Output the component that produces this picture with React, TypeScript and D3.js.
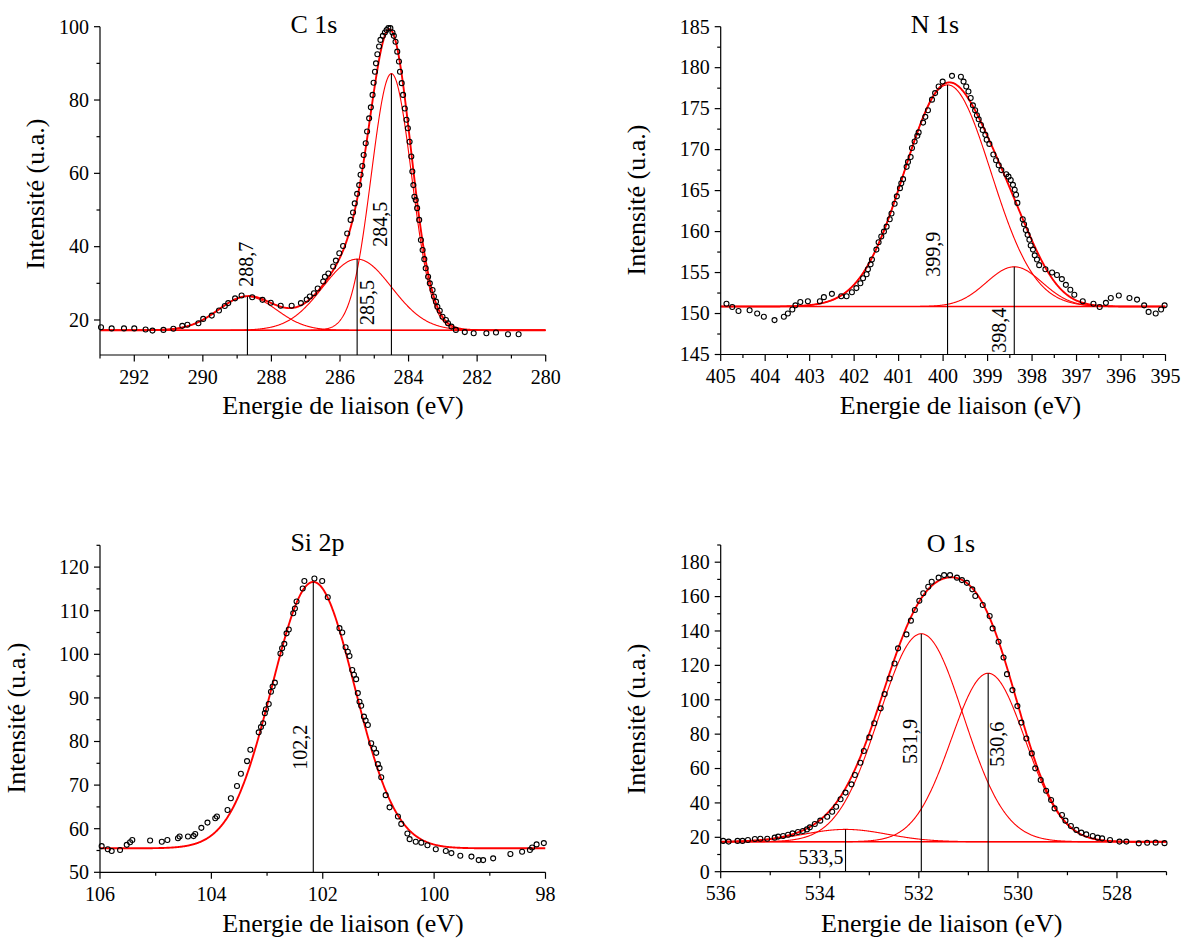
import React, { useEffect } from "react";
import * as d3 from "d3";

type Pt = [number, number];

// ================= C 1s =================
const c1sPoints: Pt[] = [
  [292.97, 18.0], [292.66, 17.7], [292.3, 17.7], [292.0, 17.7], [291.67, 17.4], [291.47, 17.1],
  [291.15, 17.3], [290.86, 17.6], [290.6, 18.4], [290.45, 18.7], [290.13, 19.1], [289.99, 20.3],
  [289.74, 21.2], [289.53, 22.6], [289.36, 23.8], [289.26, 24.6], [289.06, 25.9], [288.87, 26.7],
  [288.56, 26.2], [288.26, 25.5], [288.02, 24.7], [287.73, 23.9], [287.41, 23.9], [287.14, 24.6],
  [286.97, 25.6], [286.88, 26.4], [286.76, 27.3], [286.65, 28.6], [286.49, 30.5], [286.44, 31.8],
  [286.34, 32.7], [286.2, 34.6], [286.12, 36.2], [286.02, 38.2], [285.91, 40.2], [285.79, 43.6],
  [285.69, 47.3], [285.62, 49.3], [285.57, 51.8], [285.5, 54.4], [285.44, 56.8], [285.4, 59.6],
  [285.35, 62.0], [285.31, 65.0], [285.25, 68.2], [285.21, 71.4], [285.15, 75.0], [285.1, 78.0],
  [285.05, 81.4], [285.02, 84.7], [284.98, 87.7], [284.95, 90.0], [284.91, 92.5], [284.86, 94.6],
  [284.82, 96.4], [284.75, 97.5], [284.69, 98.4], [284.64, 99.1], [284.59, 99.6], [284.53, 99.6],
  [284.47, 98.4], [284.43, 97.5], [284.38, 95.9], [284.33, 93.2], [284.28, 90.5], [284.25, 87.7],
  [284.2, 84.6], [284.16, 81.4], [284.11, 77.7], [284.06, 74.6], [284.02, 72.3], [283.97, 68.6],
  [283.92, 64.6], [283.89, 60.5], [283.86, 56.8], [283.83, 53.6], [283.79, 52.7], [283.75, 50.5],
  [283.69, 47.3], [283.64, 41.8], [283.59, 39.1], [283.54, 36.6], [283.5, 34.1], [283.43, 31.8],
  [283.38, 30.0], [283.3, 28.2], [283.26, 26.4], [283.2, 25.0], [283.16, 23.6], [283.09, 22.5],
  [283.01, 20.9], [282.91, 20.0], [282.85, 19.1], [282.75, 18.2], [282.62, 17.3], [282.36, 16.7],
  [282.1, 16.4], [281.73, 16.4], [281.45, 16.6], [281.1, 16.1], [280.79, 16.1],
];
const c1sBaseline = 17.2;
const c1sCenters = [288.7, 285.5, 284.5];
const c1sHeights = [9.2, 19.4, 70];
const c1sFwhm = [2.0, 2.36, 1.38];
const c1sLabels = ["288,7", "285,5", "284,5"];
const c1sXMajor = [292, 290, 288, 286, 284, 282, 280];
const c1sXMinor = [293, 291, 289, 287, 285, 283, 281];
const c1sYMajor = [20, 40, 60, 80, 100];
const c1sYMinor = [30, 50, 70, 90];

// ================= N 1s =================
const n1sPoints: Pt[] = [
  [404.87, 151.2], [404.74, 150.8], [404.6, 150.3], [404.35, 150.4], [404.18, 150.0], [404.03, 149.6],
  [403.79, 149.2], [403.58, 149.6], [403.49, 150.0], [403.39, 150.5], [403.32, 151.0], [403.21, 151.4],
  [403.04, 151.5], [402.77, 151.5], [402.68, 152.0], [402.5, 152.4], [402.29, 152.1], [402.17, 152.1],
  [402.05, 152.6], [401.95, 153.1], [401.86, 153.7], [401.8, 154.3], [401.72, 154.8], [401.69, 155.4],
  [401.63, 156.0], [401.6, 156.6], [401.5, 157.8], [401.45, 158.7], [401.39, 159.4], [401.33, 160.0],
  [401.27, 160.6], [401.2, 161.5], [401.16, 162.2], [401.09, 163.4], [401.04, 164.3], [400.97, 165.3],
  [400.94, 165.9], [400.9, 166.4], [400.82, 167.9], [400.79, 168.5], [400.73, 169.1], [400.7, 170.2],
  [400.64, 171.0], [400.58, 171.7], [400.55, 172.1], [400.45, 173.3], [400.4, 174.0], [400.34, 174.8],
  [400.25, 176.1], [400.18, 176.9], [400.1, 177.7], [400.01, 178.3], [399.8, 179.0], [399.6, 178.9],
  [399.54, 178.3], [399.48, 177.7], [399.43, 177.1], [399.38, 176.3], [399.33, 175.4], [399.28, 174.8],
  [399.24, 174.2], [399.2, 173.7], [399.15, 173.0], [399.11, 172.4], [399.05, 171.8], [399.02, 171.2],
  [398.96, 170.7], [398.87, 169.4], [398.81, 168.7], [398.75, 168.1], [398.69, 167.5], [398.58, 167.0],
  [398.53, 166.7], [398.48, 166.3], [398.43, 165.7], [398.39, 165.1], [398.36, 164.5], [398.33, 163.5],
  [398.21, 161.5], [398.18, 160.9], [398.14, 160.2], [398.1, 159.6], [398.06, 159.0], [398.03, 158.3],
  [397.98, 157.8], [397.94, 157.1], [397.89, 156.6], [397.84, 155.9], [397.7, 155.4], [397.55, 155.0],
  [397.44, 154.7], [397.33, 154.2], [397.24, 153.5], [397.14, 152.9], [397.05, 152.3], [396.86, 151.5],
  [396.62, 151.2], [396.48, 150.8], [396.34, 151.3], [396.23, 151.9], [396.05, 152.2], [395.81, 151.9],
  [395.64, 151.7], [395.48, 151.0], [395.38, 150.2], [395.22, 150.0], [395.1, 150.5], [395.02, 151.0],
];
const n1sBaseline = 150.85;
const n1sCenters = [399.9, 398.4];
const n1sHeights = [27.05, 4.85];
const n1sFwhm = [2.3, 1.48];
const n1sLabels = ["399,9", "398,4"];
const n1sXMajor = [405, 404, 403, 402, 401, 400, 399, 398, 397, 396, 395];
const n1sXMinor = [404.5, 403.5, 402.5, 401.5, 400.5, 399.5, 398.5, 397.5, 396.5, 395.5];
const n1sYMajor = [145, 150, 155, 160, 165, 170, 175, 180, 185];
const n1sYMinor = [147.5, 152.5, 157.5, 162.5, 167.5, 172.5, 177.5, 182.5];

// ================= Si 2p =================
const si2pPoints: Pt[] = [
  [105.97, 56.0], [105.86, 55.3], [105.79, 54.9], [105.64, 55.1], [105.52, 56.3], [105.46, 56.9],
  [105.42, 57.4], [105.1, 57.3], [104.89, 57.0], [104.79, 57.4], [104.6, 57.8], [104.57, 58.2],
  [104.42, 58.2], [104.32, 58.3], [104.29, 58.8], [104.18, 60.2], [104.07, 61.4], [103.93, 62.4],
  [103.9, 62.8], [103.71, 64.3], [103.65, 67.0], [103.54, 69.8], [103.47, 72.6], [103.36, 75.5],
  [103.3, 78.1], [103.15, 82.1], [103.11, 83.3], [103.07, 84.2], [103.04, 86.5], [103.02, 87.4],
  [102.97, 88.6], [102.93, 91.4], [102.9, 92.6], [102.86, 93.5], [102.76, 100.2], [102.73, 101.4],
  [102.69, 102.4], [102.65, 104.8], [102.61, 105.7], [102.53, 109.4], [102.5, 110.5], [102.47, 112.1],
  [102.36, 115.1], [102.33, 116.8], [102.15, 117.4], [102.01, 116.8], [101.91, 113.1], [101.7, 106.0],
  [101.65, 105.0], [101.59, 101.6], [101.55, 100.6], [101.52, 99.6], [101.47, 96.4], [101.44, 95.3],
  [101.4, 94.3], [101.37, 91.1], [101.34, 89.1], [101.31, 88.2], [101.26, 85.7], [101.23, 84.8],
  [101.19, 83.8], [101.13, 79.6], [101.08, 78.4], [101.04, 77.4], [101.01, 74.8], [100.98, 73.9],
  [100.95, 71.8], [100.87, 67.7], [100.8, 64.9], [100.65, 62.8], [100.59, 61.1], [100.48, 58.9],
  [100.44, 57.6], [100.33, 57.0], [100.23, 56.8], [100.12, 56.2], [99.97, 55.3], [99.79, 54.9],
  [99.69, 54.4], [99.53, 53.8], [99.33, 53.6], [99.2, 52.8], [99.12, 52.8], [98.94, 53.2],
  [98.63, 54.2], [98.42, 54.7], [98.28, 55.1], [98.24, 55.7], [98.16, 56.4], [98.03, 56.7],
];
const si2pBaseline = 55.5;
const si2pCenters = [102.17];
const si2pHeights = [61.1];
const si2pFwhm = [1.75];
const si2pLabels = ["102,2"];
const si2pXMajor = [106, 104, 102, 100, 98];
const si2pXMinor = [105, 103, 101, 99];
const si2pYMajor = [50, 60, 70, 80, 90, 100, 110, 120];
const si2pYMinor = [55, 65, 75, 85, 95, 105, 115, 125];

// ================= O 1s =================
const o1sPoints: Pt[] = [
  [535.95, 17.9], [535.84, 17.5], [535.66, 17.9], [535.56, 17.9], [535.45, 18.4], [535.31, 19.0],
  [535.2, 19.2], [535.06, 19.2], [534.91, 19.8], [534.84, 20.4], [534.74, 20.8], [534.64, 21.5],
  [534.55, 22.3], [534.44, 23.1], [534.34, 23.7], [534.26, 24.6], [534.2, 25.8], [534.1, 27.7],
  [533.99, 29.7], [533.85, 32.0], [533.75, 34.9], [533.67, 37.8], [533.58, 42.1], [533.48, 46.0],
  [533.36, 50.8], [533.29, 56.2], [533.18, 63.4], [533.11, 70.2], [533.0, 78.1], [532.9, 86.3],
  [532.77, 95.0], [532.69, 103.3], [532.59, 112.4], [532.49, 121.1], [532.42, 129.9], [532.25, 138.0],
  [532.16, 146.0], [532.08, 152.2], [531.99, 157.6], [531.91, 161.9], [531.81, 165.7], [531.74, 168.6],
  [531.6, 171.0], [531.49, 172.5], [531.37, 172.5], [531.23, 171.0], [531.13, 169.6], [531.03, 168.0],
  [530.92, 164.2], [530.86, 160.3], [530.71, 155.1], [530.57, 148.7], [530.51, 141.5], [530.39, 133.7],
  [530.29, 124.6], [530.22, 114.9], [530.11, 105.6], [530.01, 96.3], [529.93, 86.7], [529.83, 77.5],
  [529.72, 68.8], [529.65, 60.1], [529.54, 53.3], [529.43, 47.1], [529.33, 41.7], [529.26, 36.8],
  [529.11, 33.0], [529.04, 29.7], [528.93, 26.6], [528.82, 24.3], [528.72, 22.7], [528.62, 21.7],
  [528.49, 20.8], [528.39, 19.8], [528.3, 19.4], [528.14, 18.4], [527.95, 17.5], [527.81, 17.5],
  [527.56, 16.5], [527.39, 16.8], [527.22, 16.9], [527.04, 16.6],
];
const o1sBaseline = 17.4;
const o1sCenters = [533.48, 531.95, 530.6];
const o1sHeights = [7.2, 121, 98];
const o1sFwhm = [2.0, 2.0, 1.76];
const o1sLabels = ["533,5", "531,9", "530,6"];
const o1sXMajor = [536, 534, 532, 530, 528];
const o1sXMinor = [535, 533, 531, 529, 527];
const o1sYMajor = [0, 20, 40, 60, 80, 100, 120, 140, 160, 180];
const o1sYMinor = [10, 30, 50, 70, 90, 110, 130, 150, 170, 190];

// ================= layout (positions / styles only) =================
const FONT = "Liberation Serif";
const RED = "#ff0000";

type LabelPos = { dx: number; at: number; horizontal?: boolean };

type PanelProps = {
  id: string;
  title: string;
  points: Pt[];
  baseline: number;
  centers: number[];
  heights: number[];
  fwhm: number[];
  labels: string[];
  labelPos: LabelPos[];
  drawBaseline: boolean;
  xDomain: [number, number];
  yDomain: [number, number];
  xRange: [number, number];
  yRange: [number, number];
  xMajor: number[];
  xMinor: number[];
  yMajor: number[];
  yMinor: number[];
  titlePos: [number, number];
  xlabelPos: [number, number];
  ylabelPos: [number, number];
};

function gauss(e: number, c: number, h: number, w: number) {
  return h * Math.exp((-4 * Math.LN2 * (e - c) * (e - c)) / (w * w));
}

const txt = (size: number): React.CSSProperties => ({ fontFamily: FONT, fontSize: size });

function Panel(p: PanelProps) {
  const x = d3.scaleLinear().domain(p.xDomain).range(p.xRange);
  const y = d3.scaleLinear().domain(p.yDomain).range(p.yRange);
  const lo = Math.min(p.xDomain[0], p.xDomain[1]);
  const hi = Math.max(p.xDomain[0], p.xDomain[1]);
  const n = 900;
  const grid = d3.range(n + 1).map((i) => lo + ((hi - lo) * i) / n);
  const line = d3
    .line<Pt>()
    .x((d) => x(d[0]))
    .y((d) => y(d[1]));

  const comps: Pt[][] = p.centers.map((c, i) =>
    grid.map((e) => [e, p.baseline + gauss(e, c, p.heights[i], p.fwhm[i])] as Pt)
  );
  const env: Pt[] = grid.map(
    (e) =>
      [
        e,
        p.baseline +
          p.centers.reduce((s, c, i) => s + gauss(e, c, p.heights[i], p.fwhm[i]), 0),
      ] as Pt
  );
  const base: Pt[] = grid.map((e) => [e, p.baseline] as Pt);

  const [xl, xr] = p.xRange;
  const [yb, yt] = p.yRange;
  const clipId = `clip-${p.id}`;
  const axisW = 1.2;

  return (
    <g>
      <defs>
        <clipPath id={clipId}>
          <rect x={xl} y={yt - 4} width={xr - xl} height={yb - yt + 4} />
        </clipPath>
      </defs>

      <g clipPath={`url(#${clipId})`}>
        {p.drawBaseline && (
          <path d={line(base) || ""} fill="none" stroke={RED} strokeWidth={1.6} />
        )}
        {p.centers.length > 1 &&
          comps.map((c, i) => (
            <path key={i} d={line(c) || ""} fill="none" stroke={RED} strokeWidth={1.1} />
          ))}
        <path d={line(env) || ""} fill="none" stroke={RED} strokeWidth={1.9} />
        {p.centers.map((c, i) => (
          <line
            key={i}
            x1={x(c)}
            x2={x(c)}
            y1={y(p.baseline + p.heights[i])}
            y2={yb}
            stroke="#000"
            strokeWidth={1.1}
          />
        ))}
      </g>

      <g>
        {p.points.map((d, i) => (
          <circle
            key={i}
            cx={x(d[0])}
            cy={y(d[1])}
            r={2.5}
            fill="none"
            stroke="#000"
            strokeWidth={1.1}
          />
        ))}
      </g>

      {p.labels.map((lab, i) => {
        const lp = p.labelPos[i];
        const px = x(p.centers[i]) + lp.dx;
        const py = y(lp.at);
        if (lp.horizontal) {
          return (
            <text key={i} x={px} y={py} textAnchor="end" style={txt(20)}>
              {lab}
            </text>
          );
        }
        return (
          <text
            key={i}
            transform={`translate(${px},${py}) rotate(-90)`}
            textAnchor="start"
            style={txt(20)}
          >
            {lab}
          </text>
        );
      })}

      <line x1={xl} x2={xl} y1={yt} y2={yb} stroke="#000" strokeWidth={axisW} />
      <line x1={xl} x2={xr} y1={yb} y2={yb} stroke="#000" strokeWidth={axisW} />
      {p.xMajor.map((t) => (
        <g key={`xM${t}`}>
          <line x1={x(t)} x2={x(t)} y1={yb} y2={yb + 6.5} stroke="#000" strokeWidth={axisW} />
          <text x={x(t)} y={yb + 28.5} textAnchor="middle" style={txt(20)}>
            {String(t)}
          </text>
        </g>
      ))}
      {p.xMinor.map((t) => (
        <line key={`xm${t}`} x1={x(t)} x2={x(t)} y1={yb} y2={yb + 3.5} stroke="#000" strokeWidth={axisW} />
      ))}
      {p.yMajor.map((t) => (
        <g key={`yM${t}`}>
          <line x1={xl - 6} x2={xl} y1={y(t)} y2={y(t)} stroke="#000" strokeWidth={axisW} />
          <text x={xl - 11} y={y(t)} dy="0.34em" textAnchor="end" style={txt(20)}>
            {String(t)}
          </text>
        </g>
      ))}
      {p.yMinor.map((t) => (
        <line key={`ym${t}`} x1={xl - 3.5} x2={xl} y1={y(t)} y2={y(t)} stroke="#000" strokeWidth={axisW} />
      ))}

      <text x={p.titlePos[0]} y={p.titlePos[1]} textAnchor="middle" style={txt(26)}>
        {p.title}
      </text>
      <text x={p.xlabelPos[0]} y={p.xlabelPos[1]} textAnchor="middle" style={txt(26)}>
        Energie de liaison (eV)
      </text>
      <text
        transform={`translate(${p.ylabelPos[0]},${p.ylabelPos[1]}) rotate(-90)`}
        textAnchor="middle"
        style={txt(26)}
      >
        Intensité (u.a.)
      </text>
    </g>
  );
}

export default function App() {
  useEffect(() => {
    document.body.style.margin = "0";
  }, []);
  return (
    <div style={{ width: 1183, height: 938, background: "#fff" }}>
      <style>{`body{margin:0;background:#fff}`}</style>
      <svg width={1183} height={938} style={{ display: "block" }}>
        <rect x={0} y={0} width={1183} height={938} fill="#fff" />
        <Panel
          id="c1s"
          title="C 1s"
          points={c1sPoints}
          baseline={c1sBaseline}
          centers={c1sCenters}
          heights={c1sHeights}
          fwhm={c1sFwhm}
          labels={c1sLabels}
          labelPos={[
            { dx: 5.5, at: 29.1 },
            { dx: 17, at: 18.6 },
            { dx: -4, at: 40.0 },
          ]}
          drawBaseline={true}
          xDomain={[293, 280]}
          yDomain={[10.45, 100]}
          xRange={[100, 545.7]}
          yRange={[355, 26.7]}
          xMajor={c1sXMajor}
          xMinor={c1sXMinor}
          yMajor={c1sYMajor}
          yMinor={c1sYMinor}
          titlePos={[314, 33]}
          xlabelPos={[343, 414]}
          ylabelPos={[44, 194]}
        />
        <Panel
          id="n1s"
          title="N 1s"
          points={n1sPoints}
          baseline={n1sBaseline}
          centers={n1sCenters}
          heights={n1sHeights}
          fwhm={n1sFwhm}
          labels={n1sLabels}
          labelPos={[
            { dx: -7.5, at: 154.5 },
            { dx: -8, at: 145.2 },
          ]}
          drawBaseline={true}
          xDomain={[405, 395]}
          yDomain={[145, 185]}
          xRange={[720.7, 1165.5]}
          yRange={[354.5, 26.7]}
          xMajor={n1sXMajor}
          xMinor={n1sXMinor}
          yMajor={n1sYMajor}
          yMinor={n1sYMinor}
          titlePos={[935, 33]}
          xlabelPos={[960.5, 414]}
          ylabelPos={[645, 200]}
        />
        <Panel
          id="si2p"
          title="Si 2p"
          points={si2pPoints}
          baseline={si2pBaseline}
          centers={si2pCenters}
          heights={si2pHeights}
          fwhm={si2pFwhm}
          labels={si2pLabels}
          labelPos={[{ dx: -6, at: 73.5 }]}
          drawBaseline={false}
          xDomain={[106, 98]}
          yDomain={[50, 125]}
          xRange={[100, 545.5]}
          yRange={[872.3, 545.3]}
          xMajor={si2pXMajor}
          xMinor={si2pXMinor}
          yMajor={si2pYMajor}
          yMinor={si2pYMinor}
          titlePos={[317.5, 551]}
          xlabelPos={[343, 932]}
          ylabelPos={[25, 718]}
        />
        <Panel
          id="o1s"
          title="O 1s"
          points={o1sPoints}
          baseline={o1sBaseline}
          centers={o1sCenters}
          heights={o1sHeights}
          fwhm={o1sFwhm}
          labels={o1sLabels}
          labelPos={[
            { dx: -2, at: 4.5, horizontal: true },
            { dx: -4.5, at: 62.6 },
            { dx: 16, at: 61.0 },
          ]}
          drawBaseline={true}
          xDomain={[536, 527]}
          yDomain={[0, 190]}
          xRange={[720.7, 1166.5]}
          yRange={[871.7, 545]}
          xMajor={o1sXMajor}
          xMinor={o1sXMinor}
          yMajor={o1sYMajor}
          yMinor={o1sYMinor}
          titlePos={[951, 552]}
          xlabelPos={[941.7, 932]}
          ylabelPos={[645, 719]}
        />
      </svg>
    </div>
  );
}
